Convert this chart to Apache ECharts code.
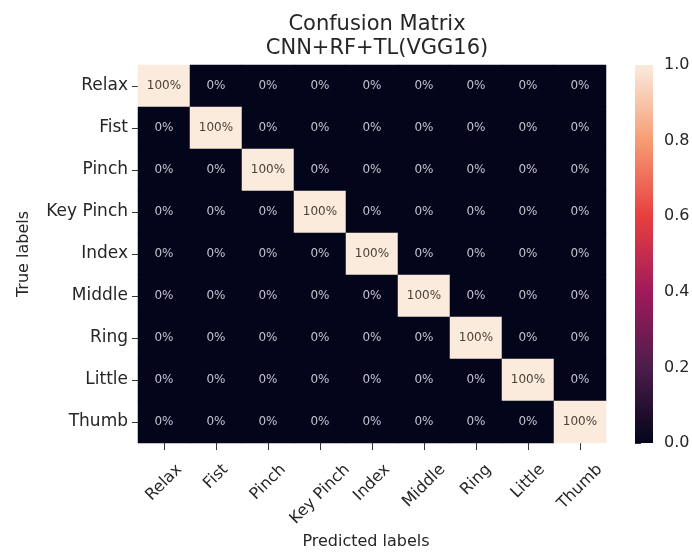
<!DOCTYPE html>
<html><head><meta charset="utf-8">
<script src="https://cdn.jsdelivr.net/npm/echarts@6/dist/echarts.min.js"></script>
<style>html,body{margin:0;padding:0;background:#fff}#c{width:692px;height:553px}</style>
</head><body><div id="c"></div>
<script>
const titleLines = ['Confusion Matrix', 'CNN+RF+TL(VGG16)'];
const predictedLabels = ['Relax','Fist','Pinch','Key Pinch','Index','Middle','Ring','Little','Thumb'];
const trueLabels = ['Relax','Fist','Pinch','Key Pinch','Index','Middle','Ring','Little','Thumb'];
const matrix = [
  [1,0,0,0,0,0,0,0,0],
  [0,1,0,0,0,0,0,0,0],
  [0,0,1,0,0,0,0,0,0],
  [0,0,0,1,0,0,0,0,0],
  [0,0,0,0,1,0,0,0,0],
  [0,0,0,0,0,1,0,0,0],
  [0,0,0,0,0,0,1,0,0],
  [0,0,0,0,0,0,0,1,0],
  [0,0,0,0,0,0,0,0,1]
];
const colorbarTicks = [0, 0.2, 0.4, 0.6, 0.8, 1.0];

const rocket = ['#03051a','#4c1d4b','#a11a5b','#e83f3f','#f69c73','#faebdd'];
const font = 'DejaVu Sans';
const xFont = 16;
const textColor = '#262626';

const data = [];
matrix.forEach((row, r) => row.forEach((v, c) => {
  data.push({value: [c, r, v], label: {color: v > 0.5 ? '#4a4038' : '#c3c5cf'}});
}));

const G = {left: 138, top: 65, width: 468, height: 378};
const CB = {left: 635, top: 65, width: 18, height: 378};

const chart = echarts.init(document.getElementById('c'));
chart.setOption({
  backgroundColor: '#fff',
  animation: false,
  title: {
    text: titleLines.join('\n'), left: G.left + G.width / 2, top: 8, textAlign: 'center',
    textStyle: {fontFamily: font, fontSize: 21, fontWeight: 'normal', color: textColor, lineHeight: 24}
  },
  grid: [
    {left: G.left, top: G.top, width: G.width, height: G.height, containLabel: false, outerBoundsMode: 'none'},
    {left: CB.left, top: CB.top, width: CB.width, height: CB.height, containLabel: false, outerBoundsMode: 'none'}
  ],
  xAxis: [
    {type: 'category', gridIndex: 0, data: predictedLabels, position: 'bottom',
     name: 'Predicted labels', nameLocation: 'middle', nameGap: 91,
     nameTextStyle: {fontFamily: font, fontSize: 16, color: textColor, padding: [0, 12, 0, 0]},
     axisLine: {show: false}, splitLine: {show: false},
     axisTick: {show: true, alignWithLabel: true, length: 7, lineStyle: {color: '#333'}},
     axisLabel: {show: false, interval: 0}},
    {type: 'value', gridIndex: 1, show: false, min: 0, max: 1}
  ],
  yAxis: [
    {type: 'category', gridIndex: 0, data: trueLabels, inverse: true,
     name: 'True labels', nameLocation: 'middle', nameGap: 106, nameRotate: 90,
     nameTextStyle: {fontFamily: font, fontSize: 16, color: textColor},
     axisLine: {show: false}, splitLine: {show: false},
     axisTick: {show: true, alignWithLabel: true, length: 6, lineStyle: {color: '#333'}},
     axisLabel: {fontFamily: font, fontSize: 17, color: textColor, margin: 10, interval: 0}},
    {type: 'value', gridIndex: 1, position: 'right', min: 0, max: 1, interval: 0.2,
     axisLine: {show: false}, splitLine: {show: false},
     axisTick: {show: true, length: 6, lineStyle: {color: '#333'}},
     axisLabel: {fontFamily: font, fontSize: 16, color: textColor, margin: 11,
       formatter: v => v.toFixed(1)}}
  ],
  visualMap: {show: false, min: 0, max: 1, seriesIndex: 0, inRange: {color: rocket}},
  series: [{
    type: 'heatmap', xAxisIndex: 0, yAxisIndex: 0, data: data,
    label: {show: true, fontFamily: font, fontSize: 12,
      formatter: p => Math.round(p.value[2] * 100) + '%'},
    itemStyle: {borderWidth: 0},
    emphasis: {disabled: true}
  }]
});

// colorbar gradient + rotated tick labels centred under their ticks (matplotlib style),
// positioned from the axis scale
const ctx = document.createElement('canvas').getContext('2d');
ctx.font = xFont + 'px "' + font + '"';
const axisY = chart.convertToPixel({yAxisIndex: 1}, 0);
const axisTop = chart.convertToPixel({yAxisIndex: 1}, 1);
const graphics = [{
  type: 'rect', shape: {x: CB.left, y: axisTop, width: CB.width, height: axisY - axisTop},
  style: {fill: new echarts.graphic.LinearGradient(0, 1, 0, 0,
    rocket.map((c, i) => ({offset: i / (rocket.length - 1), color: c})))},
  z: 1
}];
const xBase = G.top + G.height;
predictedLabels.forEach((s, i) => {
  const px = chart.convertToPixel({xAxisIndex: 0}, s);
  const L = ctx.measureText(s).width;
  const half = (L + 0.9 * xFont) / (2 * Math.SQRT2);
  graphics.push({
    type: 'text', x: px, y: xBase + 19 + half, rotation: Math.PI / 4,
    style: {text: s, fontFamily: font, fontSize: xFont, fill: textColor,
      align: 'center', verticalAlign: 'middle'},
    silent: true
  });
});
chart.setOption({graphic: graphics});
</script></body></html>
